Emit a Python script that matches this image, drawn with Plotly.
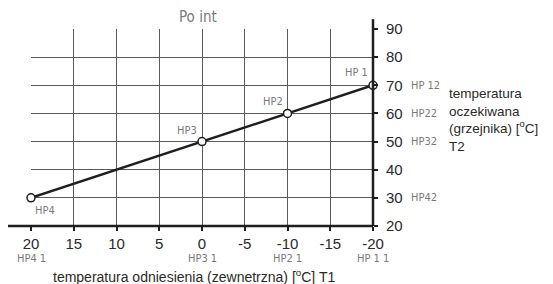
import plotly.graph_objects as go

# ---- data ----
t1_points = [20, 0, -10, -20]          # outdoor temperature T1
t2_points = [30, 50, 60, 70]           # expected temperature T2
point_names = ["HP4", "HP3", "HP2", "HP 1"]

x_ticks = [20, 15, 10, 5, 0, -5, -10, -15, -20]
y_ticks = [20, 30, 40, 50, 60, 70, 80, 90]

x_sub_vals = [20, 0, -10, -20]
x_sub_text = ["HP4 1", "HP3 1", "HP2 1", "HP 1 1"]
y_sub_vals = [70, 60, 50, 30]
y_sub_text = ["HP 12", "HP22", "HP32", "HP42"]

title_text = "Po int"
x_title = "temperatura odniesienia (zewnetrzna) [<sup>o</sup>C] T1"
y_title = "temperatura<br>oczekiwana<br>(grzejnika) [<sup>o</sup>C]<br>T2"

TXT = "#2a2a2a"
LCD = "#7a7a7a"
LCD_FONT = "DejaVu Sans Condensed, DejaVu Sans, sans-serif"
SANS = "Liberation Sans, Arial, sans-serif"

fig = go.Figure()
fig.add_trace(go.Scatter(
    x=t1_points, y=t2_points, mode="lines+markers",
    line=dict(color="#1e1e1e", width=2.5),
    marker=dict(size=8, color="white", line=dict(color="#1e1e1e", width=1.5)),
    hoverinfo="skip", cliponaxis=False, showlegend=False,
))

# point labels
offsets = {
    "HP4": dict(xanchor="left", yanchor="top", xshift=2, yshift=-4),
    "HP3": dict(xanchor="right", yanchor="bottom", xshift=-3, yshift=3),
    "HP2": dict(xanchor="right", yanchor="bottom", xshift=-3, yshift=3),
    "HP 1": dict(xanchor="right", yanchor="bottom", xshift=-3, yshift=4),
}
for xv, yv, name in zip(t1_points, t2_points, point_names):
    fig.add_annotation(x=xv, y=yv, xref="x", yref="y", text=name, showarrow=False,
                       font=dict(family=LCD_FONT, size=11, color=LCD), **offsets[name])

# sub labels under x ticks
for xv, tx in zip(x_sub_vals, x_sub_text):
    fig.add_annotation(x=xv, y=0, xref="x", yref="paper", text=tx, showarrow=False,
                       xanchor="center", yanchor="top", yshift=-24,
                       font=dict(family=LCD_FONT, size=11, color=LCD))

# sub labels next to y ticks
for yv, tx in zip(y_sub_vals, y_sub_text):
    fig.add_annotation(x=1, y=yv, xref="paper", yref="y", text=tx, showarrow=False,
                       xanchor="left", yanchor="middle", xshift=36,
                       font=dict(family=LCD_FONT, size=11, color=LCD))

# title
fig.add_annotation(x=0.488, y=1, xref="paper", yref="paper", text=title_text,
                   showarrow=False, xanchor="center", yanchor="bottom", yshift=1,
                   font=dict(family=LCD_FONT, size=15, color=LCD))

# axis titles
fig.add_annotation(x=0.477, y=0, xref="paper", yref="paper", text=x_title,
                   showarrow=False, xanchor="center", yanchor="middle", yshift=-50,
                   font=dict(family=SANS, size=14, color=TXT))
fig.add_annotation(x=1, y=0.54, xref="paper", yref="paper", text=y_title,
                   showarrow=False, xanchor="left", yanchor="middle", xshift=74, align="left",
                   font=dict(family=SANS, size=13.5, color=TXT))

# extended axis lines
fig.add_shape(type="line", xref="paper", yref="paper", x0=-0.073, x1=1, y0=0, y1=0,
              line=dict(color="#1e1e1e", width=2.5))
fig.add_shape(type="line", xref="paper", yref="paper", x0=1, x1=1, y0=0, y1=1.05,
              line=dict(color="#1e1e1e", width=2.5))

fig.update_xaxes(
    range=[20, -20], tickvals=x_ticks, ticktext=[str(v) for v in x_ticks],
    showgrid=True, gridcolor="#5a5a5a", gridwidth=1, zeroline=False,
    showline=False, ticks="outside", ticklen=4, tickwidth=1.5, tickcolor="#1e1e1e",
    tickfont=dict(family=SANS, size=15, color=TXT),
)
fig.update_yaxes(
    range=[20, 90], tickvals=y_ticks, ticktext=[str(v) for v in y_ticks], side="right",
    showgrid=True, gridcolor="#5a5a5a", gridwidth=1, zeroline=False,
    showline=False, ticks="outside", ticklen=4, tickwidth=1.5, tickcolor="#1e1e1e",
    ticklabelstandoff=5,
    tickfont=dict(family=SANS, size=15, color=TXT),
)
fig.update_layout(
    width=545, height=276,
    margin=dict(l=23, r=180, t=17, b=58),
    paper_bgcolor="white", plot_bgcolor="white",
    showlegend=False,
)
fig.write_html("out.html")
